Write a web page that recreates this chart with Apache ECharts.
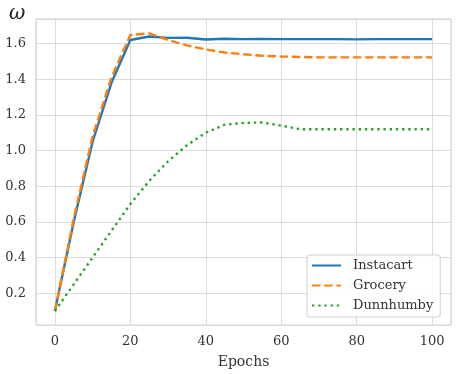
<!DOCTYPE html>
<html>
<head>
<meta charset="utf-8">
<script src="https://cdn.jsdelivr.net/npm/echarts@6/dist/echarts.min.js"></script>
<style>
  html, body { margin: 0; padding: 0; background: #fff; }
  #main { width: 458px; height: 374px; }
</style>
</head>
<body>
<div id="main"></div>
<script>
const epochs = [0, 5, 10, 15, 20, 25, 30, 35, 40, 45, 50, 55, 60, 65, 70, 75, 80, 85, 90, 95, 100];
const instacart = [0.10, 0.60, 1.05, 1.38, 1.62, 1.64, 1.632, 1.633, 1.623, 1.627, 1.625, 1.626, 1.625, 1.625, 1.625, 1.625, 1.624, 1.625, 1.625, 1.625, 1.625];
const grocery = [0.10, 0.62, 1.08, 1.41, 1.648, 1.658, 1.62, 1.59, 1.567, 1.55, 1.54, 1.532, 1.528, 1.525, 1.523, 1.523, 1.523, 1.523, 1.523, 1.523, 1.523];
const dunnhumby = [0.10, 0.25, 0.40, 0.55, 0.70, 0.83, 0.94, 1.03, 1.10, 1.145, 1.155, 1.158, 1.14, 1.12, 1.12, 1.12, 1.12, 1.12, 1.12, 1.12, 1.12];
const seriesNames = ['Instacart', 'Grocery', 'Dunnhumby'];

const font = 'DejaVu Serif';
const pair = ys => epochs.map((x, i) => [x, ys[i]]);

const chart = echarts.init(document.getElementById('main'));

chart.setOption({
    backgroundColor: '#fff',
    animation: false,
    title: {
        text: 'ω', left: 4, top: -1,
        textStyle: { fontFamily: font, fontStyle: 'italic', fontWeight: 'normal', fontSize: 20, color: '#222' }
    },
    grid: { left: 36, right: 7, top: 19, bottom: 45, show: true, borderColor: '#cccccc', borderWidth: 1 },
    xAxis: {
        type: 'value', min: -5, max: 105, splitNumber: 5,
        name: 'Epochs', nameLocation: 'middle', nameGap: 30,
        nameTextStyle: { fontFamily: font, fontSize: 14, color: '#333' },
        axisLine: { show: false }, axisTick: { show: false },
        axisLabel: {
            fontFamily: font, fontSize: 13, color: '#333', margin: 10,
            formatter: v => (Math.abs(v % 20) < 1e-6 && v >= 0 && v <= 100) ? String(v) : ''
        },
        splitLine: { lineStyle: { color: '#dcdcdc', width: 1 } }
    },
    yAxis: {
        type: 'value', min: 0.022, max: 1.738, splitNumber: 8,
        axisLine: { show: false }, axisTick: { show: false },
        axisLabel: {
            fontFamily: font, fontSize: 13, color: '#333', margin: 10,
            formatter: v => Math.abs(v * 5 - Math.round(v * 5)) < 1e-6 ? v.toFixed(1) : ''
        },
        splitLine: { lineStyle: { color: '#dcdcdc', width: 1 } }
    },
    legend: {
        orient: 'vertical', left: 307, top: 255,
        data: seriesNames,
        itemWidth: 29, itemHeight: 14, itemGap: 7,
        padding: [4, 7, 5, 4],
        backgroundColor: 'rgba(255,255,255,0.85)',
        borderColor: '#d0d0d0', borderWidth: 1, borderRadius: 3,
        itemStyle: { opacity: 0 },
        lineStyle: { width: 2 },
        textStyle: { fontFamily: font, fontSize: 13, color: '#333', padding: [0, 0, 0, 7] }
    },
    series: [
        {
            name: seriesNames[0], type: 'line', data: pair(instacart), showSymbol: false, symbol: 'none',
            itemStyle: { color: '#1f77b4' },
            lineStyle: { color: '#1f77b4', width: 2.4 }
        },
        {
            name: seriesNames[1], type: 'line', data: pair(grocery), showSymbol: false, symbol: 'none',
            itemStyle: { color: '#ff7f0e' },
            lineStyle: { color: '#ff7f0e', width: 2.4, type: [8.5, 3.7] }
        },
        {
            name: seriesNames[2], type: 'line', data: pair(dunnhumby), showSymbol: false, symbol: 'none',
            itemStyle: { color: '#2ca02c' },
            lineStyle: { color: '#2ca02c', width: 2.4, type: [2.4, 3.8] }
        }
    ]
});

window.onresize = () => chart.resize();
</script>
</body>
</html>
